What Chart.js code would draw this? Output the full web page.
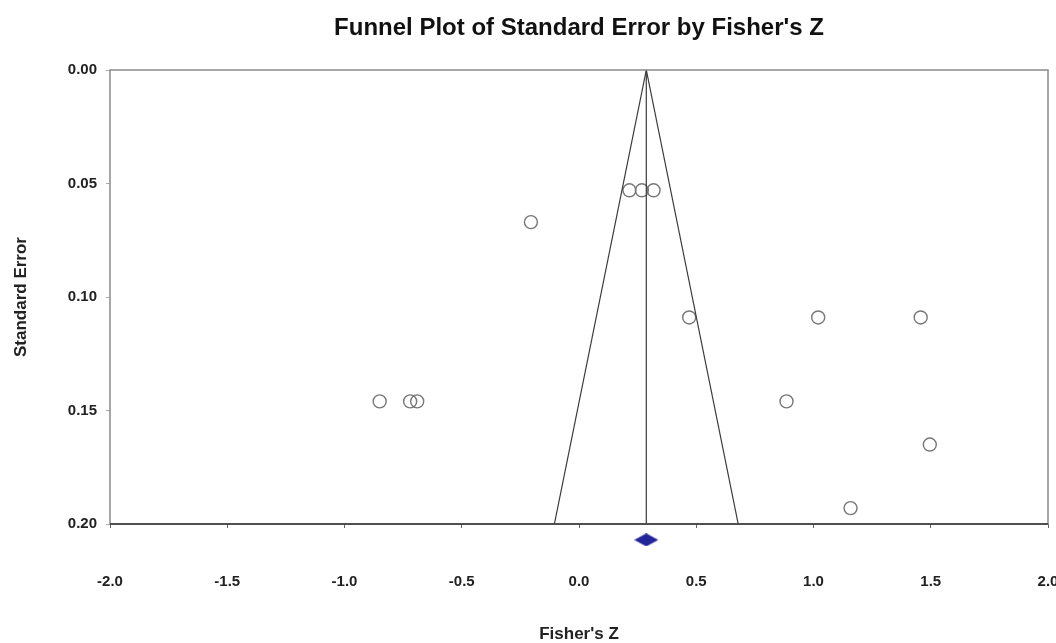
<!DOCTYPE html>
<html>
<head>
<meta charset="utf-8">
<script src="https://cdn.jsdelivr.net/npm/chart.js@4.4.1/dist/chart.umd.min.js"></script>
<style>
  body { margin: 0; background: #fff; }
  #wrap { width: 1056px; height: 643px; }
</style>
</head>
<body>
<div id="wrap"><canvas id="funnel" width="1056" height="643"></canvas></div>
<script>
// studies: Fisher's Z and standard error
const studyZ  = [0.215, 0.268, 0.318, -0.205, 0.47, 1.02, 1.457, -0.85, -0.72, -0.69, 0.885, 1.496, 1.158];
const studySE = [0.053, 0.053, 0.053, 0.067, 0.109, 0.109, 0.109, 0.146, 0.146, 0.146, 0.146, 0.165, 0.193];

// funnel (pooled estimate and 95% limits at SE = 0.20)
const funnelLeftZ   = [-0.105, 0.287];
const funnelLeftSE  = [0.20, 0.00];
const funnelRightZ  = [0.287, 0.679];
const funnelRightSE = [0.00, 0.20];
const centerZ  = [0.287, 0.287];
const centerSE = [0.00, 0.20];

// summary diamond below the axis
const summaryZ  = [0.287];
const summarySE = [0.207];

const xTicks = [-2.0, -1.5, -1.0, -0.5, 0.0, 0.5, 1.0, 1.5, 2.0];
const yTicks = [0.00, 0.05, 0.10, 0.15, 0.20];

const titleText = "Funnel Plot of Standard Error by Fisher's Z";

function pts(xs, ys) {
    return xs.map((x, i) => ({x: x, y: ys[i]}));
}

// flattened diamond marker
const diamond = document.createElement('canvas');
diamond.width = 24; diamond.height = 13;
(function() {
    const c = diamond.getContext('2d');
    c.fillStyle = '#23239a';
    c.beginPath();
    c.moveTo(0, 6.5); c.lineTo(12, 0); c.lineTo(24, 6.5); c.lineTo(12, 13);
    c.closePath();
    c.fill();
})();

const boxPlugin = {
    id: 'box',
    afterDraw(chart) {
        const a = chart.chartArea, ctx = chart.ctx;
        ctx.save();
        ctx.strokeStyle = '#8a8a8a';
        ctx.lineWidth = 1.5;
        ctx.strokeRect(a.left, a.top, a.right - a.left, a.bottom - a.top);
        ctx.strokeStyle = '#333';
        ctx.beginPath();
        ctx.moveTo(a.left, a.bottom);
        ctx.lineTo(a.right, a.bottom);
        ctx.stroke();
        // chart title, centred over the plot area
        ctx.fillStyle = '#111';
        ctx.font = 'bold 24px "Liberation Sans"';
        ctx.textAlign = 'center';
        ctx.textBaseline = 'middle';
        ctx.fillText(titleText, (a.left + a.right) / 2, 28);
        ctx.restore();
    }
};

const lineStyle = {
    type: 'line', borderColor: '#3a3a3a', borderWidth: 1.2,
    pointRadius: 0, fill: false, showLine: true, tension: 0
};

const tickFont = { family: 'Liberation Sans', size: 15, weight: 'bold' };
const axisTitleFont = { family: 'Liberation Sans', size: 17, weight: 'bold' };

new Chart(document.getElementById('funnel'), {
    type: 'scatter',
    data: {
        datasets: [
            Object.assign({label: 'left', data: pts(funnelLeftZ, funnelLeftSE)}, lineStyle),
            Object.assign({label: 'right', data: pts(funnelRightZ, funnelRightSE)}, lineStyle),
            Object.assign({label: 'center', data: pts(centerZ, centerSE)}, lineStyle),
            {
                label: 'studies',
                data: pts(studyZ, studySE),
                pointStyle: 'circle',
                pointRadius: 6.5,
                borderColor: '#777',
                borderWidth: 1.4,
                backgroundColor: 'rgba(255,255,255,0)'
            },
            {
                label: 'summary',
                data: pts(summaryZ, summarySE),
                pointStyle: diamond,
                pointRadius: 30,   // only widens the draw margin, image keeps its size
                clip: false
            }
        ]
    },
    options: {
        responsive: false,
        animation: false,
        events: [],
        layout: { autoPadding: false, padding: { left: 0, right: 8, top: 70, bottom: 0 } },
        plugins: {
            legend: { display: false },
            tooltip: { enabled: false },
            title: { display: false }
        },
        scales: {
            x: {
                type: 'linear',
                min: -2, max: 2,
                afterBuildTicks(scale) { scale.ticks = xTicks.map(v => ({value: v})); },
                afterFit(scale) {
                    scale.height = 119;
                    scale.paddingLeft = 0;
                    scale.paddingRight = 0;
                },
                grid: { display: true, drawOnChartArea: false, tickLength: 4, color: '#666' },
                border: { display: false },
                ticks: {
                    callback: v => v.toFixed(1),
                    color: '#222',
                    padding: 45,
                    maxRotation: 0,
                    font: tickFont
                },
                title: {
                    display: true,
                    text: "Fisher's Z",
                    color: '#222',
                    font: axisTitleFont,
                    padding: { top: 0, bottom: -2 }
                }
            },
            y: {
                type: 'linear',
                reverse: true,
                min: 0, max: 0.2,
                afterBuildTicks(scale) { scale.ticks = yTicks.map(v => ({value: v})); },
                afterFit(scale) {
                    scale.width = 110;
                    scale.paddingTop = 0;
                    scale.paddingBottom = 0;
                },
                grid: { display: true, drawOnChartArea: false, tickLength: 4, color: '#aaa' },
                border: { display: false },
                ticks: {
                    callback: v => v.toFixed(2),
                    color: '#222',
                    padding: 9,
                    font: tickFont
                },
                title: {
                    display: true,
                    text: 'Standard Error',
                    color: '#222',
                    font: axisTitleFont,
                    padding: { top: 11, bottom: 0 }
                }
            }
        }
    },
    plugins: [boxPlugin]
});
</script>
</body>
</html>
